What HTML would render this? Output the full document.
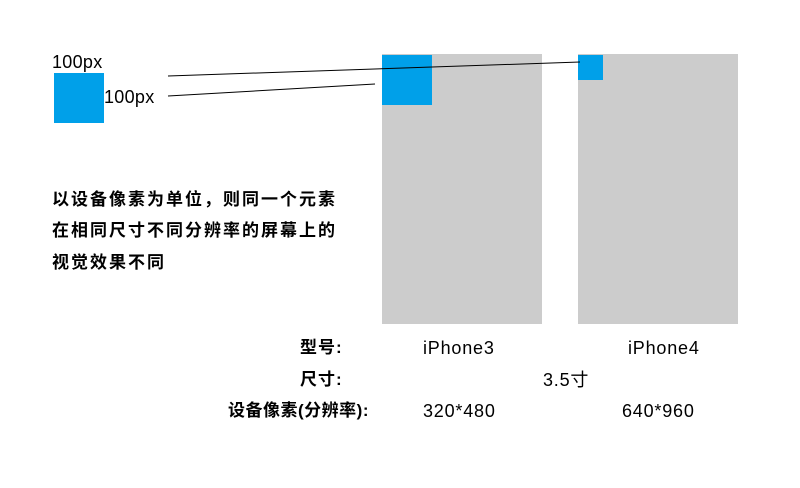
<!DOCTYPE html>
<html><head><meta charset="utf-8"><style>
body{margin:0;width:800px;height:488px;background:#fff;position:relative;overflow:hidden;font-family:"Liberation Sans","Noto Sans CJK SC",sans-serif;color:#000}
.a{position:absolute}
.t{position:absolute;font-size:18px;letter-spacing:0.8px;white-space:nowrap;line-height:1}
.cn{position:absolute;font-size:17px;font-weight:bold;letter-spacing:2px;white-space:nowrap;line-height:1}
</style></head><body>
<div class="t" style="left:52px;top:53px;letter-spacing:0.3px">100px</div>
<div class="a" style="left:54px;top:73px;width:50px;height:50px;background:#00a0e9"></div>
<div class="t" style="left:104px;top:88px;letter-spacing:0.3px">100px</div>
<div class="a" style="left:382px;top:54px;width:160px;height:270px;background:#cccccc"></div>
<div class="a" style="left:382px;top:55px;width:50px;height:50px;background:#00a0e9"></div>
<div class="a" style="left:578px;top:54px;width:160px;height:270px;background:#cccccc"></div>
<div class="a" style="left:578px;top:55px;width:25px;height:25px;background:#00a0e9"></div>
<svg class="a" style="left:0;top:0" width="800" height="488">
<line x1="168" y1="76" x2="580" y2="62" stroke="#000" stroke-width="1"/>
<line x1="168" y1="96" x2="375" y2="84" stroke="#000" stroke-width="1"/>
</svg>
<div class="cn" style="left:52px;top:191px">以设备像素为单位，则同一个元素</div>
<div class="cn" style="left:52px;top:222px">在相同尺寸不同分辨率的屏幕上的</div>
<div class="cn" style="left:52px;top:254px">视觉效果不同</div>
<div class="cn" style="left:300px;top:339px;letter-spacing:1px">型号:</div>
<div class="t" style="left:423px;top:339px">iPhone3</div>
<div class="t" style="left:628px;top:339px">iPhone4</div>
<div class="cn" style="left:300px;top:371px;letter-spacing:1px">尺寸:</div>
<div class="t" style="left:543px;top:371px">3.5寸</div>
<div class="cn" style="left:228px;top:402px;letter-spacing:0.5px">设备像素(分辨率):</div>
<div class="t" style="left:423px;top:402px">320*480</div>
<div class="t" style="left:622px;top:402px">640*960</div>
</body></html>
